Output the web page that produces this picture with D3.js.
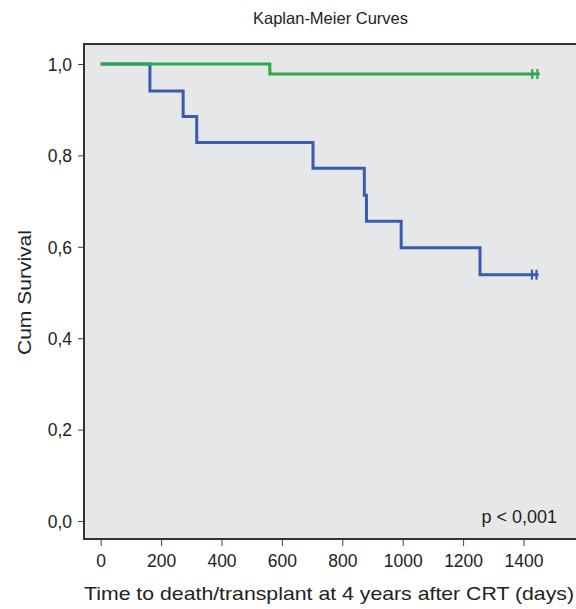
<!DOCTYPE html>
<html><head><meta charset="utf-8">
<script src="https://cdn.jsdelivr.net/npm/d3@7"></script>
<style>body{margin:0;background:#fff}svg{display:block}text{font-family:"Liberation Sans",Arial,sans-serif;fill:#222}</style>
</head><body>
<svg id="c" width="576" height="609"></svg>
<script>
const xTicks = [0,200,400,600,800,1000,1200,1400];
const yTicks = [0,0.2,0.4,0.6,0.8,1.0];
// Kaplan-Meier step curves: event times and survival after each event
const greenTimes = [0, 560];
const greenSurv  = [1.0, 0.978];
const greenEnd = 1454;
const greenCensor = [1429, 1446];
const blueTimes = [0, 163, 273, 318, 703, 873, 880, 995, 1256];
const blueSurv  = [1.0, 0.941, 0.885, 0.828, 0.772, 0.713, 0.656, 0.598, 0.539];
const blueEnd = 1450;
const blueCensor = [1428, 1443];

const svg = d3.select('#c');
const L = 84, T = 44, B = 539, R = 600;
const x = d3.scaleLinear().domain([0,1400]).range([100.7, 523.5]);
const y = d3.scaleLinear().domain([0,1]).range([521, 64]);

svg.append('rect').attr('x',L).attr('y',T).attr('width',R-L).attr('height',B-T).attr('fill','#e6e7e9');

function stepPath(times, surv, end){
  const pts = times.map((t,i)=>[t,surv[i]]);
  pts.push([end, surv[surv.length-1]]);
  return d3.line().x(d=>x(d[0])).y(d=>y(d[1])).curve(d3.curveStepAfter)(pts);
}
function drawCurve(times, surv, end, censor, color){
  svg.append('path').attr('d', stepPath(times,surv,end)).attr('fill','none')
    .attr('stroke',color).attr('stroke-width',3).attr('stroke-linejoin','miter');
  const s = surv[surv.length-1];
  censor.forEach(c=>{
    svg.append('line').attr('x1',x(c)).attr('x2',x(c)).attr('y1',y(s)-5).attr('y2',y(s)+5)
      .attr('stroke',color).attr('stroke-width',2.2);
  });
}
drawCurve(blueTimes, blueSurv, blueEnd, blueCensor, '#3a5cb0');
drawCurve(greenTimes, greenSurv, greenEnd, greenCensor, '#2fa84a');

// frame
svg.append('path').attr('d',`M${R},${T}H${L}V${B}H${R}`).attr('fill','none').attr('stroke','#333').attr('stroke-width',2);

// axes
const yAxis = d3.axisLeft(y).tickValues(yTicks).tickSize(5).tickPadding(6).tickFormat(d=>d3.format('.1f')(d).replace('.',','));
const gy = svg.append('g').attr('transform',`translate(${L-1},0)`).call(yAxis);
gy.select('.domain').remove();
gy.selectAll('line').attr('stroke','#444');
gy.selectAll('text').style('font-size','17.5px').attr('fill','#222').attr('dy','0.36em');

const xAxis = d3.axisBottom(x).tickValues(xTicks).tickSize(6).tickPadding(9).tickFormat(d3.format('d'));
const gx = svg.append('g').attr('transform',`translate(0,${B+1})`).call(xAxis);
gx.select('.domain').remove();
gx.selectAll('line').attr('stroke','#444');
gx.selectAll('text').style('font-size','17.5px').attr('fill','#222');

// texts
svg.append('text').attr('x',330.5).attr('y',24).attr('text-anchor','middle').style('font-size','16.5px').text('Kaplan-Meier Curves');
svg.append('text').attr('transform','translate(31,292.5) rotate(-90)').attr('text-anchor','middle').style('font-size','19px')
  .attr('textLength',125).attr('lengthAdjust','spacingAndGlyphs').text('Cum Survival');
svg.append('text').attr('x',329).attr('y',600).attr('text-anchor','middle').style('font-size','19px')
  .attr('textLength',490).attr('lengthAdjust','spacingAndGlyphs').text('Time to death/transplant at 4 years after CRT (days)');
svg.append('text').attr('x',557).attr('y',522.5).attr('text-anchor','end').style('font-size','18px').text('p < 0,001');
</script>
</body></html>
